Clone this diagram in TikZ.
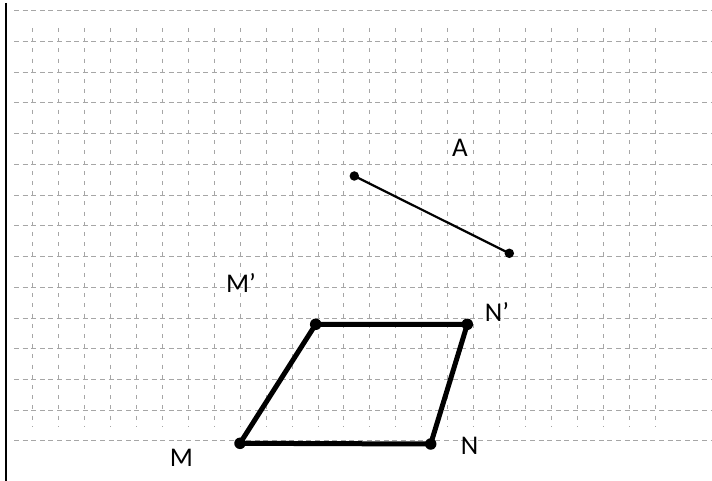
\documentclass[tikz,border=0pt]{standalone}
\usepackage{fontspec}
\setmainfont{Carlito}
\usetikzlibrary{positioning}

\begin{document}
\begin{tikzpicture}[x=1pt, y=-1pt,
    gridh/.style={gray!70, line width=0.9pt, dash pattern=on 5pt off 3.6pt},
    gridv/.style={gray!70, line width=0.9pt, dash pattern=on 4pt off 6.2pt},
    smalldot/.style={circle, fill=black, inner sep=0pt, minimum size=9.5pt},
    bigdot/.style={circle, fill=black, inner sep=0pt, minimum size=11.5pt},
    lbl/.style={font=\fontsize{27}{30}\selectfont, inner sep=0pt}]
    \useasboundingbox (0,0) rectangle (712,481);

    % Grid
    \foreach \k in {0,...,14}
        \draw[gridh] (14,10.7+30.73*\k) -- (712,10.7+30.73*\k);
    \foreach \k in {0,...,24}
        \draw[gridv] (32.3+25.97*\k,28) -- (32.3+25.97*\k,427);

    % Margin line
    \draw[line width=1.6pt] (6,3) -- (6,481);

    % Segment
    \node (s1) [smalldot] at (354.3,176) {};
    \node (s2) [smalldot] at (509.3,253.3) {};
    \draw[line width=2.2pt] (s1.center) -- (s2.center);

    % Parallelogram
    \node (pM) [bigdot] at (240,443.3) {};
    \node (pN) [bigdot] at (430.7,444) {};
    \node (pNp) [bigdot] at (467.3,324.3) {};
    \node (pMp) [bigdot] at (315.7,324.3) {};
    \draw[line width=5pt, line join=round] (pM.center) -- (pN.center) -- (pNp.center) -- (pMp.center) -- cycle;

    % Labels
    \node (labA) [lbl] at (460,148) {A};
    \node (labMp) [lbl] at (241,283) {M’};
    \node (labNp) [lbl] at (497,312) {N’};
    \node (labN) [lbl] at (469.5,445.5) {N};
    \node (labM) [lbl] at (181.5,458) {M};
\end{tikzpicture}
\end{document}
